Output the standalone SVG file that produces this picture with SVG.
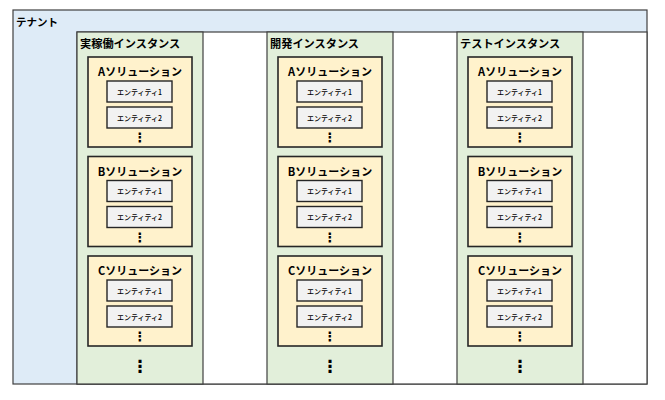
<svg xmlns="http://www.w3.org/2000/svg" width="665" height="400" viewBox="0 0 665 400">
<defs>
<style>
text{font-family:"Noto Sans CJK JP","Liberation Sans",sans-serif;fill:#000}
.tenant{fill:#DEEBF7;stroke:#404040;stroke-width:1.2}
.area{fill:#FFFFFF;stroke:#404040;stroke-width:1.2}
.inst{fill:#E2EFDA;stroke:#404040;stroke-width:1.2}
.sol{fill:#FFF2CC;stroke:#262626;stroke-width:1.6}
.ent{fill:#F2F2F2;stroke:#262626;stroke-width:1.4}
.t1{font-size:10.5px;font-weight:bold}
.t2{font-size:11.2px;font-weight:bold}
.t3{font-size:11px;font-weight:bold;text-anchor:middle}
.t4{font-size:7px;font-weight:500;text-anchor:middle}
.dot{font-family:"DejaVu Sans",sans-serif;font-size:13px;font-weight:bold;text-anchor:middle}
.bdot{font-family:"DejaVu Sans",sans-serif;font-size:17px;font-weight:bold;text-anchor:middle}
</style>
<g id="solTpl">
<rect class="sol" x="11" y="0" width="104" height="90"/>
<rect class="ent" x="30" y="24" width="65" height="21"/>
<text class="t4" x="62.5" y="37.5">エンティティ1</text>
<rect class="ent" x="30" y="50" width="65" height="21"/>
<text class="t4" x="62.5" y="63.5">エンティティ2</text>
<text class="dot" x="63" y="85">⋮</text>
</g>
</defs>
<g id="tenant">
<rect class="tenant" x="13" y="10" width="634" height="374"/>
<rect class="area" x="77" y="32" width="570" height="352"/>
<text class="t1" x="16" y="26">テナント</text>
</g>
<g id="connectors"/>
<g id="inst-prod" transform="translate(77,0)">
<rect class="inst" x="0" y="32" width="126" height="352"/>
<text class="t2" x="3" y="48">実稼働インスタンス</text>
<g id="prod-solA" transform="translate(0,57)"><use href="#solTpl"/><text class="t3" x="63" y="19">Aソリューション</text></g>
<g id="prod-solB" transform="translate(0,156.5)"><use href="#solTpl"/><text class="t3" x="63" y="19">Bソリューション</text></g>
<g id="prod-solC" transform="translate(0,256)"><use href="#solTpl"/><text class="t3" x="63" y="19">Cソリューション</text></g>
<text class="bdot" x="63" y="372">⋮</text>
</g>
<g id="inst-dev" transform="translate(267,0)">
<rect class="inst" x="0" y="32" width="126" height="352"/>
<text class="t2" x="3" y="48">開発インスタンス</text>
<g id="dev-solA" transform="translate(0,57)"><use href="#solTpl"/><text class="t3" x="63" y="19">Aソリューション</text></g>
<g id="dev-solB" transform="translate(0,156.5)"><use href="#solTpl"/><text class="t3" x="63" y="19">Bソリューション</text></g>
<g id="dev-solC" transform="translate(0,256)"><use href="#solTpl"/><text class="t3" x="63" y="19">Cソリューション</text></g>
<text class="bdot" x="63" y="372">⋮</text>
</g>
<g id="inst-test" transform="translate(457,0)">
<rect class="inst" x="0" y="32" width="126" height="352"/>
<text class="t2" x="3" y="48">テストインスタンス</text>
<g id="test-solA" transform="translate(0,57)"><use href="#solTpl"/><text class="t3" x="63" y="19">Aソリューション</text></g>
<g id="test-solB" transform="translate(0,156.5)"><use href="#solTpl"/><text class="t3" x="63" y="19">Bソリューション</text></g>
<g id="test-solC" transform="translate(0,256)"><use href="#solTpl"/><text class="t3" x="63" y="19">Cソリューション</text></g>
<text class="bdot" x="63" y="372">⋮</text>
</g>
</svg>
